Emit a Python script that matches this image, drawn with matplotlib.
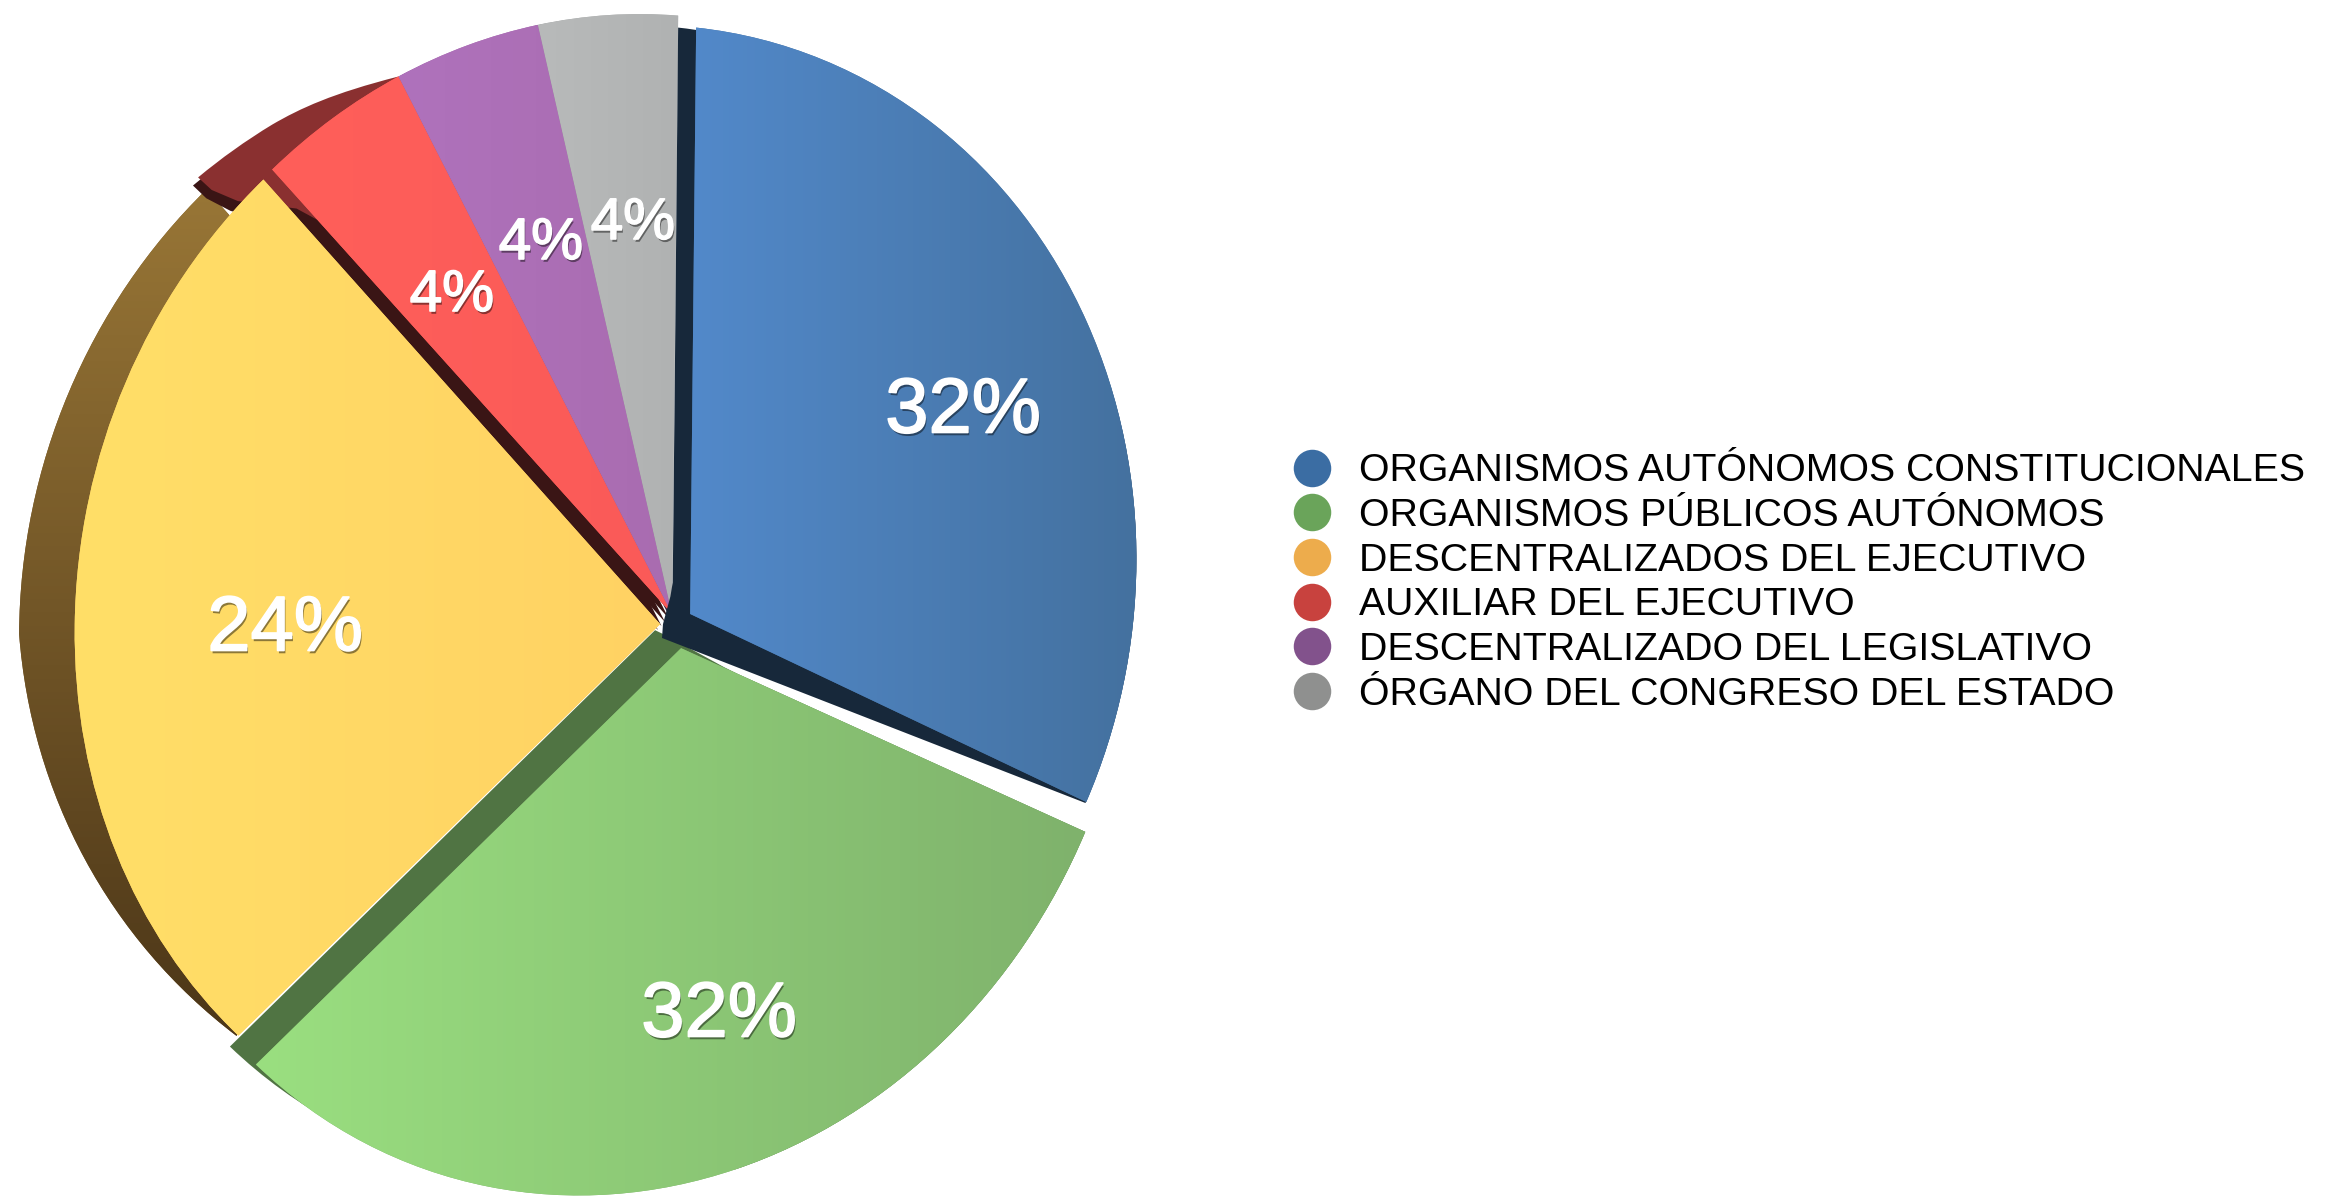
import numpy as np
import matplotlib
matplotlib.use('Agg')
import matplotlib.pyplot as plt
import matplotlib.patheffects as pe
from matplotlib.lines import Line2D
from matplotlib.path import Path
from matplotlib.transforms import Transform

plt.rcParams['font.family'] = ['Liberation Sans', 'DejaVu Sans']

# data
categories = ['ORGANISMOS AUTÓNOMOS CONSTITUCIONALES', 'ORGANISMOS PÚBLICOS AUTÓNOMOS',
              'DESCENTRALIZADOS DEL EJECUTIVO', 'AUXILIAR DEL EJECUTIVO',
              'DESCENTRALIZADO DEL LEGISLATIVO', 'ÓRGANO DEL CONGRESO DEL ESTADO']
values = [32, 32, 24, 4, 4, 4]

legend_colors = ['#3B6DA3', '#6AA45A', '#EDAC4C', '#C8423E', '#82528C', '#8F908F']
left_colors = ['#5289CA', '#9ADF80', '#FFDF68', '#FF5F5A', '#AF72BC', '#B8BABA']
right_colors = ['#44719F', '#7FB26C', '#FFD263', '#FA5A58', '#A96CB0', '#B0B2B2']
side_colors = ['#17283A', '#507443', '#7A5A2B', '#8A3030', '#2A2440', '#3A3F40']

# the tilted view of the pie: unit circle angle -> picture pixel
view_angles = [90, 104.4, 118.8, 133.2, -140.4, -25.2]
view_pixels = [(676, 15), (539, 25), (397, 73), (273, 175), (245, 1025), (1075, 797)]
view_hub = (677, 612)


def fit_view():
    A, b = [], []
    pts = [(np.cos(np.radians(t)), np.sin(np.radians(t))) for t in view_angles] + [(0, 0)]
    for (x, y), (X, Y) in zip(pts, view_pixels + [view_hub]):
        A.append([x, y, 1, 0, 0, 0, -x * X, -y * X])
        A.append([0, 0, 0, x, y, 1, -x * Y, -y * Y])
        b += [X, Y]
    h = np.linalg.lstsq(np.array(A), np.array(b, float), rcond=None)[0]
    return np.append(h, 1).reshape(3, 3)


H = fit_view()


def split_lines(path, n=40):
    # straight edges get extra points so the side shifts can bend them
    verts, codes = [], []
    for v, c in zip(path.vertices, path.codes):
        if c == Path.LINETO:
            start = verts[-1]
            for t in np.linspace(0, 1, n + 1)[1:]:
                verts.append(start * (1 - t) + v * t)
                codes.append(c)
        else:
            verts.append(np.array(v, float))
            codes.append(c)
    return Path(np.array(verts), codes)


class PieView(Transform):
    input_dims = output_dims = 2
    is_affine = False
    has_inverse = False

    def __init__(self, slide=(0, 0), grow=(1.0, 1.0), shear=0.0, side=None):
        super().__init__()
        self.slide = slide
        self.grow = grow
        self.shear = shear
        self.side = side

    def transform_non_affine(self, xy):
        xy = np.asarray(xy, float)
        p = np.c_[xy, np.ones(len(xy))] @ H.T
        out = p[:, :2] / p[:, 2:]
        dx = out[:, 0] - view_hub[0]
        dy = out[:, 1] - view_hub[1]
        out[:, 0] = view_hub[0] + dx * self.grow[0]
        out[:, 1] = view_hub[1] + dy * self.grow[1] + dx * self.shear
        out = out + self.slide
        if self.side is not None:
            out = out + self.side(out[:, 0], out[:, 1])
        return out

    def transform_path_non_affine(self, path):
        fine = split_lines(path)
        return Path(self.transform_non_affine(fine.vertices), fine.codes)


def blue_side(x, y):
    u = np.clip((x - 960) / 132, 0, 1)
    near = np.clip(1 - np.hypot(x - 695, y - 609) / 45, 0, 1)
    return np.c_[-18 * (1 - u) - 12 * near, 24 * (1 - u) * np.clip((y - 40) / 300, 0, 1)]


def green_side(x, y):
    t = np.clip((730 - x) / 40, 0, 1)
    return np.c_[-26 * t, -18 * t]


def yellow_side(x, y):
    t = np.clip((1037 - y) / 430, 0, 1) ** 0.6
    return np.c_[-57 * t, 10 * t]


def rim_amount(x, y):
    # only the outer part of the red slice is pushed out, not its long edge
    u = np.clip((397 - x) / 130, 0, 1) ** 0.3
    far = np.clip((np.hypot(x - 677, y - 612) - 545) / 25, 0, 1)
    return u * far


def red_rim(x, y):
    a = rim_amount(x, y)
    return np.c_[-75 * a, 8 * a]


def red_band(f):
    def side(x, y):
        a = rim_amount(x, y)
        return f * np.c_[-14 - 66 * a, 16 + 0 * a]
    return side


def purple_side(x, y):
    return np.c_[-3 + 0 * x, 2 + 0 * x]


def gray_side(x, y):
    return np.c_[-3 + 0 * x, 1 + 0 * x]


slides = [(18, 0), (9, 34), (-12, 10), (0, 0), (0, 0), (0, 0)]
grows = [(0.98, 0.98), (1.0, 1.012), (0.992, 1.0), (1.0, 1.0), (1.0, 1.0), (1.0, 1.0)]
shears = [0.025, 0, 0, 0, 0, 0]
sides = [blue_side, green_side, yellow_side, red_rim, purple_side, gray_side]
top_z = [8, 6, 4, 3, 3, 3]
side_z = [7, 5, 1, 2, 2.5, 2.5]

fig = plt.figure(figsize=(23.3, 11.96), dpi=100)
ax = fig.add_axes([0, 0, 1, 1])

# only the red slice has the extra dark strip under it, swept so the slice tip leaves no gap
for f in [0.25, 0.5, 0.75, 1.0]:
    band_wedges, _ = ax.pie(values, startangle=90, counterclock=False, colors=['#3A1515'] * len(values))
    for i, b in enumerate(band_wedges):
        if i == 3:
            b.set_transform(PieView(side=red_band(f)) + ax.transData)
            b.set_zorder(1.5)
        else:
            b.set_visible(False)

side_wedges, _ = ax.pie(values, startangle=90, counterclock=False, colors=side_colors)
wedges, _, autotexts = ax.pie(values, startangle=90, counterclock=False, colors=right_colors,
                              autopct='%.0f%%')

for i, (w, s) in enumerate(zip(wedges, side_wedges)):
    s.set_transform(PieView(slides[i], grows[i], shears[i], sides[i]) + ax.transData)
    s.set_zorder(side_z[i])
    view = PieView(slides[i], grows[i], shears[i])
    w.set_transform(view + ax.transData)
    w.set_zorder(top_z[i])
    # flat colour goes left to right across the slice
    verts = view.transform_path_non_affine(w.get_path()).vertices
    x0, x1, y0, y1 = verts[:, 0].min(), verts[:, 0].max(), verts[:, 1].min(), verts[:, 1].max()
    c0 = np.array(matplotlib.colors.to_rgb(left_colors[i]))
    c1 = np.array(matplotlib.colors.to_rgb(right_colors[i]))
    ramp = np.linspace(0, 1, 128)[None, :, None]
    im = ax.imshow(c0 + (c1 - c0) * ramp, extent=(x0, x1, y1, y0), aspect='auto',
                   interpolation='bilinear', zorder=top_z[i])
    im.set_clip_path(w)

# brown rim of the yellow slice is darker towards the bottom
s = side_wedges[2]
sv = PieView(slides[2], grows[2], shears[2], sides[2])
verts = sv.transform_path_non_affine(s.get_path()).vertices
c0 = np.array(matplotlib.colors.to_rgb('#987636'))
c1 = np.array(matplotlib.colors.to_rgb('#4C3618'))
ramp = np.linspace(0, 1, 128)[:, None, None]
im = ax.imshow(c0 + (c1 - c0) * ramp,
               extent=(verts[:, 0].min(), verts[:, 0].max(), verts[:, 1].max(), verts[:, 1].min()),
               aspect='auto', zorder=side_z[2])
im.set_clip_path(s)

label_xy = [(963, 412), (719, 1016), (285, 630), (452, 296), (541, 244), (633, 224)]
label_size = [56, 56, 56, 42, 42, 42]
for t, xy, size in zip(autotexts, label_xy, label_size):
    t.set_position(xy)
    t.set_color('white')
    t.set_fontsize(size)
    t.set_ha('center')
    t.set_va('center')
    t.set_zorder(20)
    t.set_path_effects([pe.withSimplePatchShadow(offset=(1, -2), shadow_rgbFace='black', alpha=0.45),
                        pe.withStroke(linewidth=1.2, foreground='white')])

handles = [Line2D([], [], linestyle='none', marker='o', markersize=27, markerfacecolor=c,
                  markeredgecolor='none') for c in legend_colors]
leg = ax.legend(handles, categories, loc='center left', bbox_to_anchor=(1292 / 2330, 1 - 583 / 1196),
                frameon=False, fontsize=28.25, labelspacing=0.22, handlelength=1.0,
                handletextpad=0.72, borderpad=0, borderaxespad=0)
for txt in leg.get_texts():
    txt.set_color('black')

ax.set_xlim(0, 2330)
ax.set_ylim(1196, 0)
ax.set_aspect('auto')
ax.axis('off')

fig.savefig('out.png', dpi=100)
